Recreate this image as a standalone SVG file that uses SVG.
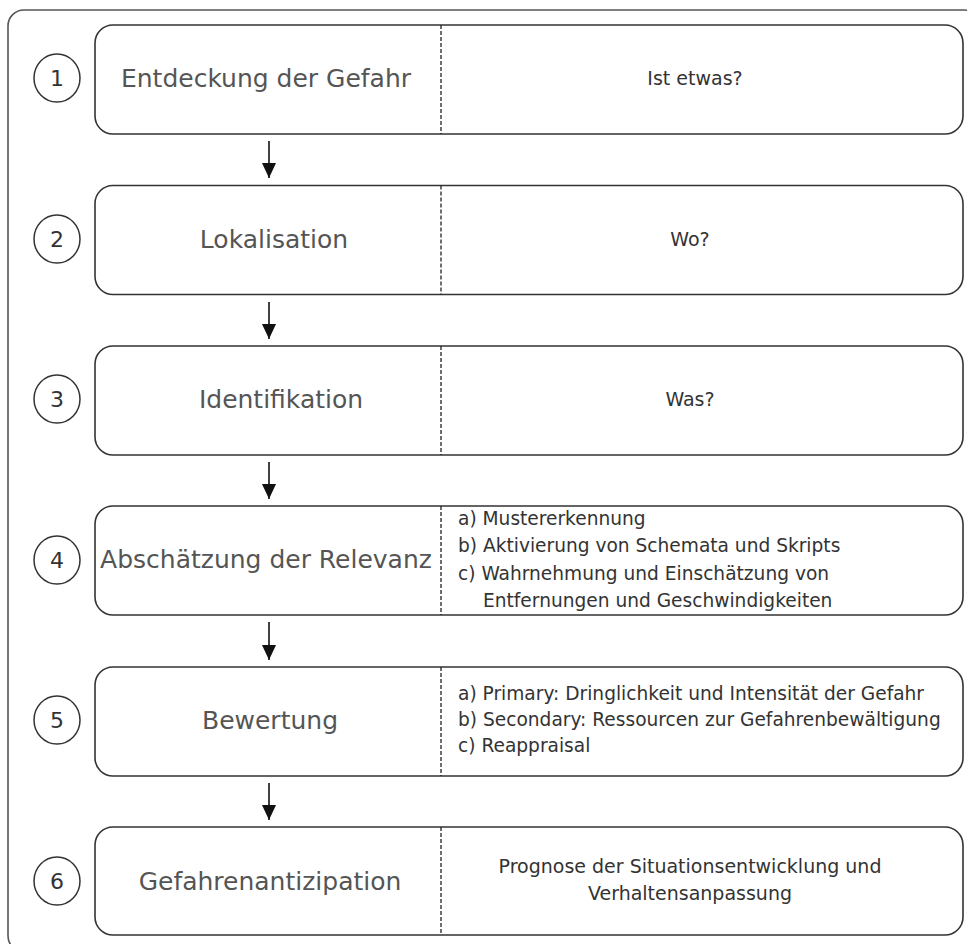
<svg xmlns="http://www.w3.org/2000/svg" width="967" height="944" viewBox="0 0 967 944">
<style>
.frame{fill:none;stroke:#555;stroke-width:1.6}
.box{fill:#fff;stroke:#333;stroke-width:1.6}
.div{stroke:#222;stroke-width:1.3;stroke-dasharray:4 2}
.num{fill:none;stroke:#333;stroke-width:1.5}
.numt{font-family:"DejaVu Sans",sans-serif;font-size:22px;fill:#333;text-anchor:middle}
.title{font-family:"DejaVu Sans",sans-serif;font-size:25px;fill:#555;text-anchor:middle}
.rt{font-family:"DejaVu Sans",sans-serif;font-size:19px;fill:#333;text-anchor:middle}
.lt{font-family:"DejaVu Sans",sans-serif;font-size:18.6px;fill:#333}
.arr{stroke:#111;stroke-width:1.6;fill:none}
</style>
<defs>
<marker id="ah" viewBox="0 0 15 14" refX="15" refY="7" markerWidth="15" markerHeight="14" markerUnits="userSpaceOnUse" orient="auto">
<path d="M0,0 L15,7 L0,14 Z" fill="#111"/>
</marker>
</defs>
<rect class="frame" x="8" y="10" width="972" height="942" rx="16"/>

<g id="node1">
<rect class="box" x="95" y="25" width="868" height="109" rx="18"/>
<line class="div" x1="441" y1="25" x2="441" y2="134"/>
<ellipse class="num" cx="57" cy="78" rx="23" ry="24"/>
<text class="numt" x="57" y="86">1</text>
<text class="title" x="266" y="87">Entdeckung der Gefahr</text>
<text class="rt" x="695" y="85">Ist etwas?</text>
</g>

<g id="node2">
<rect class="box" x="95" y="185.5" width="868" height="109" rx="18"/>
<line class="div" x1="441" y1="185.5" x2="441" y2="294.5"/>
<ellipse class="num" cx="57" cy="239" rx="23" ry="24"/>
<text class="numt" x="57" y="247">2</text>
<text class="title" x="274" y="248">Lokalisation</text>
<text class="rt" x="690" y="246">Wo?</text>
</g>

<g id="node3">
<rect class="box" x="95" y="346" width="868" height="109" rx="18"/>
<line class="div" x1="441" y1="346" x2="441" y2="455"/>
<ellipse class="num" cx="57" cy="399" rx="23" ry="24"/>
<text class="numt" x="57" y="407">3</text>
<text class="title" x="281" y="408">Identifikation</text>
<text class="rt" x="690" y="406">Was?</text>
</g>

<g id="node4">
<rect class="box" x="95" y="506" width="868" height="109" rx="18"/>
<line class="div" x1="441" y1="506" x2="441" y2="615"/>
<ellipse class="num" cx="57" cy="560" rx="23" ry="24"/>
<text class="numt" x="57" y="568">4</text>
<text class="title" x="266" y="568">Abschätzung der Relevanz</text>
<text class="lt" x="458" y="525">a) Mustererkennung</text>
<text class="lt" x="458" y="552">b) Aktivierung von Schemata und Skripts</text>
<text class="lt" x="458" y="580">c) Wahrnehmung und Einschätzung von</text>
<text class="lt" x="483" y="607">Entfernungen und Geschwindigkeiten</text>
</g>

<g id="node5">
<rect class="box" x="95" y="667" width="868" height="109" rx="18"/>
<line class="div" x1="441" y1="667" x2="441" y2="776"/>
<ellipse class="num" cx="57" cy="720" rx="23" ry="24"/>
<text class="numt" x="57" y="728">5</text>
<text class="title" x="270" y="729">Bewertung</text>
<text class="lt" x="458" y="700">a) Primary: Dringlichkeit und Intensität der Gefahr</text>
<text class="lt" x="458" y="726">b) Secondary: Ressourcen zur Gefahrenbewältigung</text>
<text class="lt" x="458" y="752">c) Reappraisal</text>
</g>

<g id="node6">
<rect class="box" x="95" y="827" width="868" height="108" rx="18"/>
<line class="div" x1="441" y1="827" x2="441" y2="935"/>
<ellipse class="num" cx="57" cy="881" rx="23" ry="24"/>
<text class="numt" x="57" y="889">6</text>
<text class="title" x="270" y="890">Gefahrenantizipation</text>
<text class="rt" x="690" y="873">Prognose der Situationsentwicklung und</text>
<text class="rt" x="690" y="900">Verhaltensanpassung</text>
</g>

<g id="connectors">
<line class="arr" x1="269" y1="141" x2="269" y2="178" marker-end="url(#ah)"/>
<line class="arr" x1="269" y1="302" x2="269" y2="339" marker-end="url(#ah)"/>
<line class="arr" x1="269" y1="462" x2="269" y2="499" marker-end="url(#ah)"/>
<line class="arr" x1="269" y1="622" x2="269" y2="660" marker-end="url(#ah)"/>
<line class="arr" x1="269" y1="783" x2="269" y2="820" marker-end="url(#ah)"/>
</g>
</svg>
